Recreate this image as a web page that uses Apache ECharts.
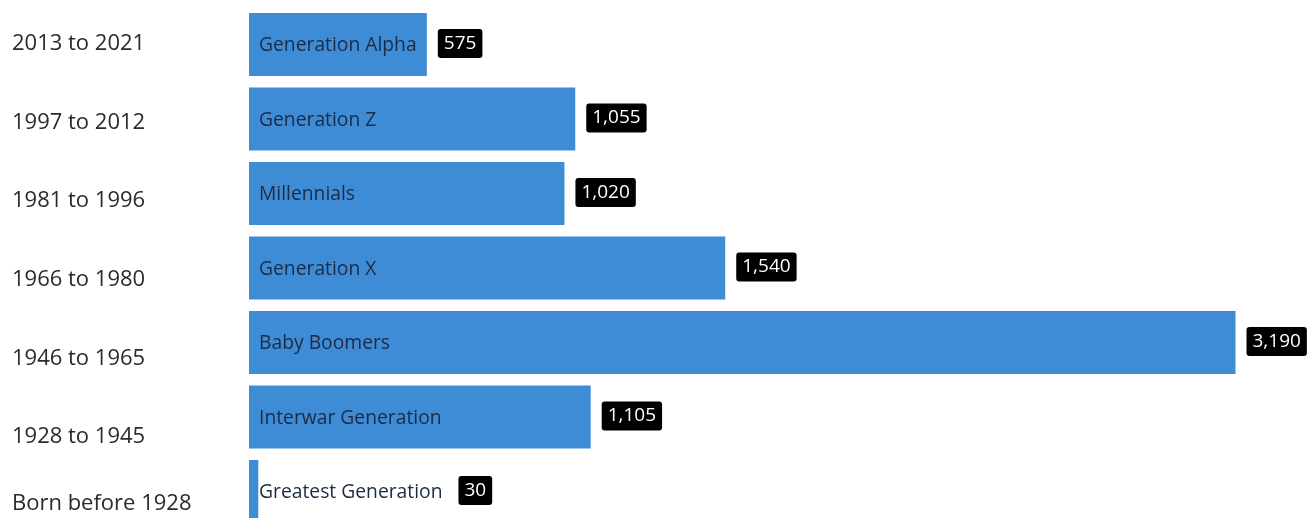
<!DOCTYPE html>
<html>
<head>
<meta charset="utf-8">
<script src="https://cdn.jsdelivr.net/npm/echarts@6/dist/echarts.min.js"></script>
<style>
  html, body { margin: 0; padding: 0; background: #fff; }
  #chart { width: 1312px; height: 518px; }
</style>
</head>
<body>
<div id="chart"></div>
<script>
// Generations by birth-year range
const birthRanges = ['2013 to 2021', '1997 to 2012', '1981 to 1996', '1966 to 1980', '1946 to 1965', '1928 to 1945', 'Born before 1928'];
const generations = ['Generation Alpha', 'Generation Z', 'Millennials', 'Generation X', 'Baby Boomers', 'Interwar Generation', 'Greatest Generation'];
const counts = [575, 1055, 1020, 1540, 3190, 1105, 30];

const FONT_FAMILY = '"Open Sans", "Noto Sans", sans-serif';
const NAME_SIZE = 19.3;
const NAME_FONT = NAME_SIZE + 'px ' + FONT_FAMILY;
const VALUE_FONT = '19px ' + FONT_FAMILY;
const NAME_INSET = 10;

const measureCtx = document.createElement('canvas').getContext('2d');
function textWidth(str, font) {
  measureCtx.font = font;
  return measureCtx.measureText(str).width;
}

const chart = echarts.init(document.getElementById('chart'), null, { renderer: 'canvas' });

chart.setOption({
  animation: false,
  grid: [
    // bar area runs past the bottom edge so the last bar is partly cut off
    { left: 249, width: 986.5, top: 7.25, height: 521.5, outerBoundsMode: 'none', containLabel: false },
    { left: 12, width: 200, top: 4.7, height: 550, outerBoundsMode: 'none', containLabel: false }
  ],
  xAxis: [
    { gridIndex: 0, type: 'value', min: 0, max: 'dataMax', show: false },
    { gridIndex: 1, type: 'value', show: false }
  ],
  yAxis: [
    {
      gridIndex: 0, type: 'category', inverse: true, data: generations,
      axisLine: { show: false }, axisTick: { show: false }, axisLabel: { show: false }, splitLine: { show: false }
    },
    {
      gridIndex: 1, type: 'category', inverse: true,
      data: birthRanges,
      axisLine: { show: false }, axisTick: { show: false }, splitLine: { show: false },
      axisLabel: {
        inside: true, margin: 0, align: 'left',
        color: '#2b2b2b', fontSize: 22, fontFamily: FONT_FAMILY,
        // the bottom row is lifted so it stays clear of the lower edge
        formatter: (value, idx) => idx === birthRanges.length - 1 ? '{last|' + value + '}' : value,
        rich: {
          last: {
            color: '#2b2b2b', fontSize: 22, fontFamily: FONT_FAMILY,
            padding: [0, 0, 24, 0]
          }
        }
      }
    }
  ],
  series: [
    {
      type: 'bar',
      xAxisIndex: 0, yAxisIndex: 0,
      data: counts,
      barWidth: 63,
      itemStyle: { color: '#3f8cd6' },
      label: {
        show: true,
        position: 'insideLeft',
        distance: NAME_INSET,
        offset: [0, 1.5],
        formatter: p => generations[p.dataIndex],
        color: '#1c2b44',
        fontSize: NAME_SIZE,
        fontFamily: FONT_FAMILY
      }
    },
    {
      // value badges placed after the bar end or the generation name, whichever is further right
      type: 'custom',
      xAxisIndex: 0, yAxisIndex: 0,
      data: counts.map((v, i) => [v, i]),
      renderItem: function (params, api) {
        const v = api.value(0);
        const i = api.value(1);
        const end = api.coord([v, i]);
        const start = api.coord([0, i]);
        const nameEnd = start[0] + NAME_INSET + textWidth(generations[i], NAME_FONT);
        const x = Math.max(end[0] + 11, nameEnd + 16);
        return {
          type: 'text',
          style: {
            text: v.toLocaleString('en-US'),
            x: x,
            y: end[1] - 1,
            align: 'left',
            verticalAlign: 'middle',
            font: VALUE_FONT,
            fill: '#ffffff',
            backgroundColor: '#000000',
            padding: [5, 6, 5, 6],
            borderRadius: 3
          }
        };
      }
    }
  ]
});
</script>
</body>
</html>
